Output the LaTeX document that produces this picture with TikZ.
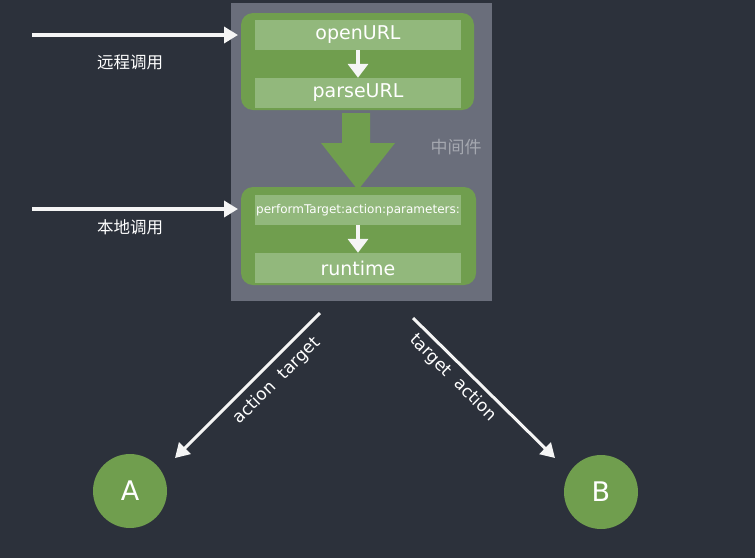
\documentclass[tikz,border=0pt]{standalone}
\usepackage{fontspec}
\setmainfont{DejaVu Sans}
\newfontfamily\cjk{Noto Sans CJK SC}
\usetikzlibrary{arrows.meta}
\definecolor{board}{RGB}{44,49,59}
\definecolor{panel}{RGB}{106,110,123}
\definecolor{grn}{RGB}{112,158,78}
\definecolor{bar}{RGB}{146,184,124}
\definecolor{midtxt}{RGB}{165,168,176}
\definecolor{chalk}{RGB}{245,245,245}
\tikzset{
  greenbox/.style={draw=none, fill=grn, rounded corners=12pt},
  barbox/.style={fill=bar, draw=none, minimum width=206pt, minimum height=30pt, inner sep=0pt, text=white, font=\fontsize{19}{22}\selectfont},
  chalkarrow/.style={draw=chalk, line width=3.5pt, -{Triangle[length=14pt,width=16pt]}},
  smallarrow/.style={draw=chalk, line width=3.5pt, -{Triangle[length=14pt,width=20pt]}},
  cnlabel/.style={text=white, font=\cjk\fontsize{16.5}{19}\selectfont},
  endcircle/.style={circle, fill=grn, minimum size=74pt, inner sep=0pt, text=white, font=\fontsize{27}{30}\selectfont},
  difflabel/.style={text=white, font=\fontsize{17}{20}\selectfont}
}
\begin{document}
\begin{tikzpicture}[x=1pt,y=-1pt]
\fill[board] (0,0) rectangle (755,558);
\useasboundingbox (0,0) rectangle (755,558);
% middleware panel
\fill[panel] (231,3) rectangle (492,301);
\node[text=midtxt, font=\cjk\fontsize{17}{20}\selectfont] (mid) at (456,147) {中间件};
% top box
\fill[greenbox] (241,13) rectangle (474,110);
\node[barbox] (open) at (358,35) {openURL};
\node[barbox] (parse) at (358,93) {parseURL};
\draw[smallarrow] (open.south) -- (parse.north);
% big arrow
\fill[grn] (342,113) -- (370,113) -- (370,143) -- (395,143) -- (358,190) -- (321,143) -- (342,143) -- cycle;
% bottom box
\fill[greenbox] (241,187) rectangle (476,285);
\node[barbox, font=\fontsize{12}{14}\selectfont] (perf) at (358,210) {performTarget:action:parameters:};
\node[barbox] (run) at (358,268) {runtime};
\draw[smallarrow] (perf.south) -- (run.north);
% left incoming arrows
\coordinate (r0) at (32,35);
\coordinate (r1) at (238,35);
\draw[chalkarrow] (r0) -- (r1);
\node[cnlabel] (rl) at (130,62) {远程调用};
\coordinate (l0) at (32,209);
\coordinate (l1) at (238,209);
\draw[chalkarrow] (l0) -- (l1);
\node[cnlabel] (ll) at (130,227) {本地调用};
% circles
\node[endcircle] (A) at (130,491) {A};
\node[endcircle] (B) at (601,492) {B};
% diagonal arrows
\coordinate (d1) at (320,313);
\coordinate (d1e) at (175,458);
\draw[chalkarrow, line width=3pt] (d1) -- (d1e);
\node[difflabel, rotate=45] (lab1) at (277,381) {action\ \ target};
\coordinate (d2) at (413,318);
\coordinate (d2e) at (555,458);
\draw[chalkarrow, line width=3pt] (d2) -- (d2e);
\node[difflabel, rotate=-45] (lab2) at (453,378) {target\ \ action};
\end{tikzpicture}
\end{document}
